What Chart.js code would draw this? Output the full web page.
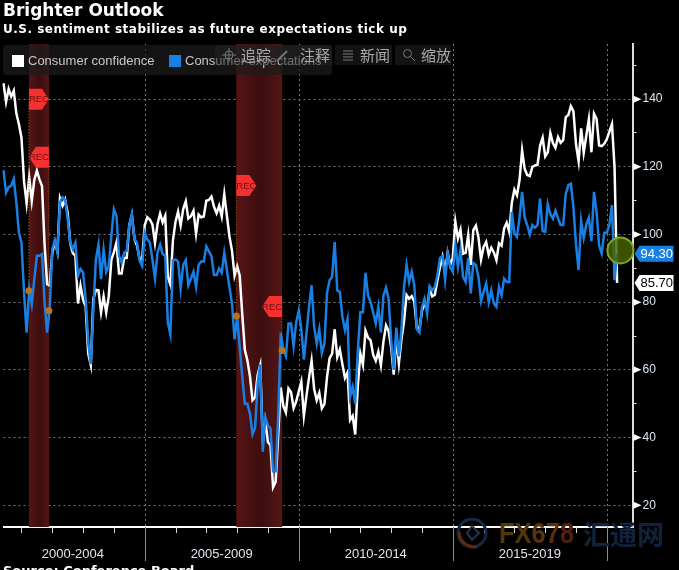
<!DOCTYPE html>
<html>
<head>
<meta charset="utf-8">
<title>Brighter Outlook</title>
<script src="https://cdn.jsdelivr.net/npm/chart.js@4/dist/chart.umd.min.js"></script>
<style>
html, body { margin: 0; padding: 0; width: 679px; height: 570px; background: #000; overflow: hidden; }
#wrap { position: relative; width: 679px; height: 570px; overflow: hidden; font-family: "Liberation Sans", Arial, sans-serif; }
canvas { position: absolute; left: 0; top: 0; }
.title { position: absolute; left: 3px; top: 0; color: #fff; font: bold 17px "DejaVu Sans", sans-serif; white-space: nowrap; }
.subtitle { position: absolute; left: 3px; top: 22px; color: #fff; font: bold 12px "DejaVu Sans", sans-serif; letter-spacing: .5px; white-space: nowrap; }
.source { position: absolute; left: 3px; top: 563px; color: #fff; font: bold 13px "DejaVu Sans", sans-serif; white-space: nowrap; }
.legend { position: absolute; left: 3px; top: 45px; width: 329px; height: 30px; background: rgba(28,28,28,.72); border-radius: 3px; color: #c8c8c8; font-size: 13px; }
.legend i { position: absolute; top: 10px; width: 12px; height: 12px; }
.legend span { position: absolute; top: 8px; white-space: nowrap; }
.tool { position: absolute; top: 45px; height: 20px; background: rgba(34,34,34,.55); color: #a8a8a8; font: 15px "Noto Sans CJK SC", sans-serif; line-height: 20px; white-space: nowrap; }
.tool svg { position: absolute; left: 7px; top: 3px; }
.tool span { position: absolute; left: 26px; top: 0; }
.wm { position: absolute; top: 517px; left: 499px; font: bold 29px "Liberation Sans", sans-serif; white-space: nowrap; transform: scaleX(.88); transform-origin: left top; }
.wm-cn { position: absolute; top: 514px; left: 583px; color: #11223d; font: bold 27px "Noto Sans CJK SC", sans-serif; white-space: nowrap; }
</style>
</head>
<body>
<div id="wrap">
    <canvas id="chart" width="679" height="570"></canvas>
    <div class="title">Brighter Outlook</div>
    <div class="subtitle">U.S. sentiment stabilizes as future expectations tick up</div>
    <div class="legend">
        <i style="left:9px;background:#fff"></i><span style="left:25px">Consumer confidence</span>
        <i style="left:166px;background:#1a7fe3"></i><span style="left:182px">Consumer expectations</span>
    </div>
    <div class="tool" style="left:215px;width:63px">
        <svg width="14" height="14" stroke="#777" fill="none"><circle cx="7" cy="7" r="4"/><path d="M7 0v14M0 7h14"/></svg><span>追踪</span>
    </div>
    <div class="tool" style="left:280px;width:52px">
        <svg width="14" height="14" stroke="#777" fill="none" stroke-width="2" style="left:-5px"><path d="M2 13L12 3"/></svg><span style="left:20px">注释</span>
    </div>
    <div class="tool" style="left:335px;width:57px">
        <svg width="12" height="14" stroke="#777" fill="none"><path d="M1 3h10M1 6h10M1 9h10M1 12h10"/></svg><span style="left:25px">新闻</span>
    </div>
    <div class="tool" style="left:395px;width:56px">
        <svg width="14" height="14" stroke="#777" fill="none"><circle cx="5.5" cy="5.5" r="4"/><path d="M8.5 8.5L13 13"/></svg><span style="left:26px">缩放</span>
    </div>
    <svg style="position:absolute;left:455px;top:518px" width="34" height="32" fill="none">
        <circle cx="17" cy="15" r="14" stroke="#152843" stroke-width="3"/>
        <path d="M4 14C5 24 12 29 22 29" stroke="#5c2a0e" stroke-width="3"/>
        <path d="M17 8l7 7-7 7-5-7z" stroke="#24364a" stroke-width="2"/>
    </svg>
    <div class="wm" style="color:#503709">FX<span style="color:#5a330c">6</span><span style="color:#5c2d0c">7</span><span style="color:#55210b">8</span></div>
    <div class="wm-cn">汇通网</div>
    <div class="source">Source: Conference Board</div>
</div>
<script>
// monthly, May 2000 to Apr 2020
const confidence = [
    144.7, 139.2, 143, 140.8, 142.5, 135.8, 132.6, 128.6,
    115.7, 109.2, 116.9, 109.9, 116.1, 118.9, 116.3, 114.3, 97, 85.3, 84.9, 94.6,
    97.8, 95, 110.7, 108.5, 110.3, 106.3, 97.4, 94.5, 93.7, 79.6, 84.9, 80.7,
    78.8, 64.8, 61.4, 81, 83.6, 83.5, 77, 81.7, 77, 81.7, 92.5, 94.8,
    97.7, 88.5, 88.5, 93, 93.1, 102.8, 105.7, 98.7, 96.7, 92.9, 92.6, 102.7,
    105.1, 104.4, 103, 97.5, 103.1, 106.2, 103.6, 105.5, 87.5, 85.2, 98.3, 103.8,
    106.8, 102.7, 107.5, 109.8, 104.7, 105.4, 107, 100.2, 105.9, 105.1, 105.3, 110,
    110.2, 111.2, 108.2, 106.3, 108.5, 105.3, 111.9, 105.6, 99.5, 95.2, 87.8, 90.6,
    87.9, 76.4, 65.9, 62.8, 58.1, 51, 51.9, 58.5, 61.4, 38.8, 44.7, 38.6,
    37.7, 25.3, 26.9, 40.8, 54.8, 49.3, 47.4, 54.5, 53.4, 48.7, 50.6, 53.6,
    56.5, 46.4, 52.3, 57.7, 62.7, 54.3, 51, 53.2, 48.6, 49.9, 57.8, 63.4,
    64.8, 72, 63.8, 66, 61.7, 57.6, 59.2, 45.2, 46.4, 40.9, 55.2, 64.8,
    61.5, 71.6, 69.5, 68.7, 64.4, 62.7, 65.4, 61.3, 68.4, 73.1, 71.5, 66.7,
    58.6, 69.6, 61.9, 69, 74.3, 82.1, 81, 81.8, 80.2, 72.4, 72, 77.5,
    79.4, 78.3, 83.9, 81.7, 82.2, 86.4, 90.3, 93.4, 89, 94.5, 91, 93.1,
    103.8, 98.8, 101.4, 94.3, 94.6, 99.8, 91, 101.3, 102.6, 99.1, 92.6, 96.3,
    97.8, 94, 96.1, 94.7, 92.4, 97.4, 96.7, 101.8, 103.5, 100.8, 109.4, 113.3,
    111.6, 116.1, 124.9, 119.4, 117.6, 117.3, 120, 120.4, 120.6, 126.2, 128.6, 123.1,
    124.3, 130, 127, 125.6, 128.8, 127.1, 127.9, 134.7, 135.3, 137.9, 136.4, 126.6,
    121.7, 131.4, 124.2, 129.2, 134.1, 124.3, 135.7, 134.2, 126.3, 126.1, 126.8, 128.2,
    130.4, 132.6, 120, 85.7
]

const expectations = [
    119, 112.4, 114, 114.4, 116.4, 109.5, 100.6, 97.6,
    82.9, 71, 83.8, 79.4, 86.8, 93.7, 93.7, 94.2, 80, 71, 78, 95.7,
    98.3, 94.7, 109.5, 111, 110.4, 104.5, 97.6, 95.7, 97.6, 87.8, 89.8, 88.8,
    81, 68, 61.7, 78, 92.7, 97, 86.8, 95.5, 89, 90.7, 99.6, 107.5,
    105.5, 93.7, 91.7, 94.7, 95.2, 102.6, 106, 98.6, 97.6, 92.2, 90.7, 100.6,
    98.6, 97.6, 92.7, 87, 94.7, 97, 94.2, 93.7, 74, 70.5, 92.4, 92.6,
    92, 84, 91, 92.4, 85, 87, 89, 84.5, 91, 92, 92, 96.5,
    95, 93.6, 88, 88, 90, 88.7, 94.6, 89.5, 84.5, 79.6, 69, 75.7,
    66.8, 58, 50, 50, 47, 41, 43, 56, 61.6, 35.8, 46, 43.6,
    42.7, 30, 30, 46, 71, 65.8, 64, 73.7, 73.7, 67, 74, 77.5,
    72, 63, 70.7, 78.6, 85, 72.7, 67.8, 72, 65, 67.8, 82.6, 86.5,
    87.5, 97.8, 83.5, 83, 75.7, 71.7, 75, 52, 55, 50, 65.8, 77,
    77, 88.7, 82, 80, 77, 73.7, 78.6, 71, 82, 84.3, 81, 68.8,
    60, 72.5, 64, 71.7, 84.5, 91, 86, 89, 85, 72, 71, 78.6,
    81, 76.6, 84.7, 83.5, 84.5, 88, 93, 93.6, 86.5, 94.4, 90.4, 89,
    96.8, 90.4, 95.4, 87.5, 86, 93, 82.6, 91.6, 91, 87.5, 80.3, 83,
    85.5, 80, 83.5, 79.6, 78.6, 84.5, 82, 87, 86, 86, 106.7, 100.3,
    99.3, 105, 112.6, 105, 102.8, 100, 102.8, 102, 102.8, 110.6, 101, 100.8,
    109, 106, 104.7, 107, 104.7, 102.8, 102.8, 112, 114.6, 115, 108, 97,
    89.5, 104, 99, 103, 105, 98, 112.6, 106.7, 96.8, 94.4, 100.5, 100.5,
    102.8, 108.7, 86.5, 94.3
]

// one label per month, the tail is empty room up to the right axis
const months = []
for (let i = 0; i < 246; i++) {
    const m = 4 + i
    months.push(`${2000 + Math.floor(m / 12)}-${(m % 12) + 1}`)
}

const periodLabels = ['2000-2004', '2005-2009', '2010-2014', '2015-2019']
const periodCenters = [27, 85, 145, 205]
const periodEdges = [55, 115, 175, 235]
const yearEnds = [7, 19, 31, 43, 55, 67, 79, 91, 103, 115, 127, 139, 151, 163, 175, 187, 199, 211, 223, 235]
const recessions = [[9.9, 17.7], [90.7, 108.5]]
// flag: month index it hangs from, value level, direction, dot value
const recFlags = [
    { at: 9.9, level: 140, dir: 1, dot: 83.4 },
    { at: 17.7, level: 122.8, dir: -1, dot: 77.5 },
    { at: 90.7, level: 114.5, dir: 1, dot: 75.9 },
    { at: 108.5, level: 78.7, dir: -1, dot: 65.7 }
]
const lastTags = [
    { value: 94.3, text: '94.30', bg: '#1a7fe3', fg: '#fff' },
    { value: 85.7, text: '85.70', bg: '#fff', fg: '#000' }
]

const blue = '#1a7fe3'

const overlay = {
    id: 'overlay',
    beforeDatasetsDraw(chart) {
        const ctx = chart.ctx
        const x = chart.scales.x
        const area = chart.chartArea
        ctx.save()
        recessions.forEach(r => {
            const x0 = x.getPixelForValue(r[0])
            const x1 = x.getPixelForValue(r[1])
            const g = ctx.createLinearGradient(x0, 0, x1, 0)
            g.addColorStop(0, '#571414')
            g.addColorStop(0.55, '#3c0e0e')
            g.addColorStop(1, '#581515')
            ctx.fillStyle = g
            ctx.fillRect(x0, area.top, x1 - x0, area.bottom - area.top)
        })
        // dotted year lines
        ctx.strokeStyle = '#777'
        ctx.setLineDash([2, 3])
        periodEdges.forEach(i => {
            const px = Math.round(x.getPixelForValue(i)) + 0.5
            ctx.beginPath()
            ctx.moveTo(px, area.top)
            ctx.lineTo(px, area.bottom)
            ctx.stroke()
        })
        ctx.restore()
    },
    afterDatasetsDraw(chart) {
        const ctx = chart.ctx
        const x = chart.scales.x
        const y = chart.scales.y
        const area = chart.chartArea
        ctx.save()

        recFlags.forEach(f => {
            const px = x.getPixelForValue(f.at)
            const py = y.getPixelForValue(f.level)
            const dotY = y.getPixelForValue(f.dot)
            ctx.strokeStyle = '#a8650f'
            ctx.setLineDash([1, 2])
            ctx.beginPath()
            ctx.moveTo(px, py)
            ctx.lineTo(px, dotY)
            ctx.stroke()
            ctx.setLineDash([])
            ctx.fillStyle = '#b8741a'
            ctx.beginPath()
            ctx.arc(px, dotY, 3.5, 0, Math.PI * 2)
            ctx.fill()

            const d = f.dir
            ctx.fillStyle = '#f5302f'
            ctx.beginPath()
            ctx.moveTo(px, py - 10.5)
            ctx.lineTo(px + d * 13, py - 10.5)
            ctx.lineTo(px + d * 20, py)
            ctx.lineTo(px + d * 13, py + 10.5)
            ctx.lineTo(px, py + 10.5)
            ctx.closePath()
            ctx.fill()
            ctx.fillStyle = '#6e1010'
            ctx.font = '9.5px "Liberation Sans", sans-serif'
            ctx.textAlign = 'center'
            ctx.textBaseline = 'middle'
            ctx.fillText('REC', px + d * 10, py + 0.5)
        })

        // the green marker at the last reading
        ctx.fillStyle = 'rgba(72, 100, 0, 0.82)'
        ctx.strokeStyle = '#7ea81c'
        ctx.lineWidth = 2
        ctx.beginPath()
        ctx.arc(x.getPixelForValue(240.3), y.getPixelForValue(95.3), 13, 0, Math.PI * 2)
        ctx.fill()
        ctx.stroke()

        // triangles on the major ticks
        ctx.fillStyle = '#fff'
        y.ticks.forEach(t => {
            if (t.value % 20 !== 0) return
            const py = y.getPixelForValue(t.value)
            ctx.beginPath()
            ctx.moveTo(area.right + 1, py - 3.5)
            ctx.lineTo(area.right + 9, py)
            ctx.lineTo(area.right + 1, py + 3.5)
            ctx.closePath()
            ctx.fill()
        })

        lastTags.forEach(tag => {
            const py = y.getPixelForValue(tag.value)
            ctx.fillStyle = tag.bg
            ctx.beginPath()
            ctx.moveTo(area.right + 2, py)
            ctx.lineTo(area.right + 7, py - 8)
            ctx.lineTo(area.right + 41, py - 8)
            ctx.lineTo(area.right + 41, py + 8)
            ctx.lineTo(area.right + 7, py + 8)
            ctx.closePath()
            ctx.fill()
            ctx.fillStyle = tag.fg
            ctx.font = '13px "Liberation Sans", sans-serif'
            ctx.textAlign = 'left'
            ctx.textBaseline = 'middle'
            ctx.fillText(tag.text, area.right + 8, py + 0.5)
        })

        // year ticks and period separators under the axis
        ctx.strokeStyle = '#d8d8d8'
        ctx.lineWidth = 1
        yearEnds.forEach(i => {
            const px = Math.round(x.getPixelForValue(i)) + 0.5
            ctx.beginPath()
            ctx.moveTo(px, area.bottom)
            ctx.lineTo(px, area.bottom + 6)
            ctx.stroke()
        })
        ctx.strokeStyle = '#8a8a8a'
        periodEdges.forEach(i => {
            const px = Math.round(x.getPixelForValue(i)) + 0.5
            ctx.beginPath()
            ctx.moveTo(px, area.bottom)
            ctx.lineTo(px, area.bottom + 34)
            ctx.stroke()
        })
        ctx.restore()
    }
}

new Chart(document.getElementById('chart'), {
    type: 'line',
    data: {
        labels: months,
        datasets: [
            { label: 'Consumer expectations', data: expectations, borderColor: blue, borderWidth: 2.5, pointRadius: 0, tension: 0, order: 1 },
            { label: 'Consumer confidence', data: confidence, borderColor: '#fff', borderWidth: 2.5, pointRadius: 0, tension: 0, order: 2 }
        ]
    },
    options: {
        responsive: false,
        animation: false,
        devicePixelRatio: 1,
        layout: { padding: { left: 3.5, top: 44, right: 0, bottom: 0 } },
        plugins: { legend: { display: false }, tooltip: { enabled: false } },
        scales: {
            x: {
                type: 'category',
                afterBuildTicks(axis) {
                    axis.ticks = periodCenters.map(v => ({ value: v }))
                },
                afterFit(axis) {
                    axis.height = 43
                },
                grid: { display: false },
                border: { color: '#fff', width: 2 },
                ticks: {
                    autoSkip: false,
                    maxRotation: 0,
                    padding: 12,
                    color: '#dfe6ee',
                    font: { family: '"Liberation Sans", sans-serif', size: 13 },
                    callback: (v) => periodLabels[periodCenters.indexOf(v)]
                }
            },
            y: {
                position: 'right',
                min: 13.56,
                max: 156.3,
                afterFit(axis) {
                    axis.width = 46.5
                },
                grid: {
                    color: c => (c.tick && c.tick.value % 20 === 0) ? '#777' : 'transparent',
                    tickColor: '#ddd',
                    tickLength: 4
                },
                border: { color: '#ddd', width: 2, dash: [2, 3] },
                ticks: {
                    stepSize: 10,
                    includeBounds: false,
                    autoSkip: false,
                    padding: 6,
                    color: '#d8e6f5',
                    font: { family: '"Liberation Sans", sans-serif', size: 12 },
                    callback: v => (v % 20 === 0 && v < 150 ? v : '')
                }
            }
        }
    },
    plugins: [overlay]
})
</script>
</body>
</html>
